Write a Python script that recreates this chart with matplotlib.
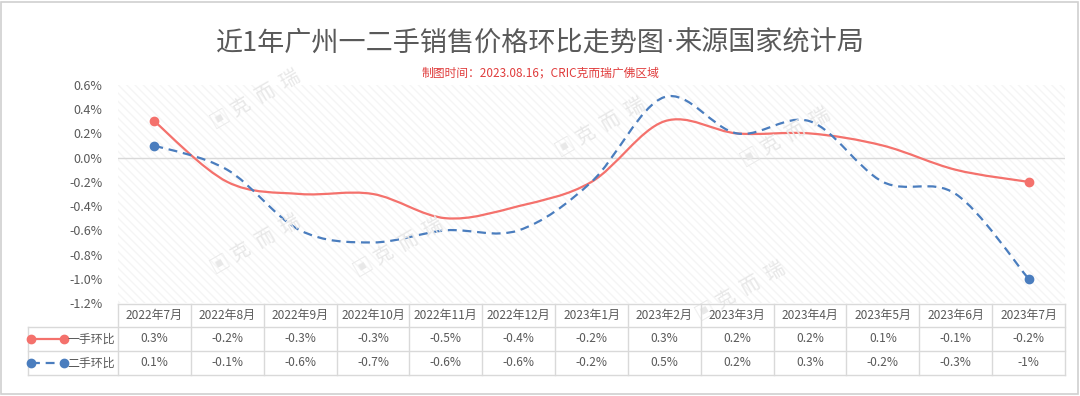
import matplotlib
matplotlib.use('Agg')
import matplotlib.pyplot as plt
from matplotlib.path import Path
from matplotlib.patches import PathPatch, Rectangle
from matplotlib.lines import Line2D
import numpy as np

plt.rcParams['font.family'] = ['Noto Sans CJK SC', 'DejaVu Sans']

title = "近1年广州一二手销售价格环比走势图·来源国家统计局"
subtitle = "制图时间：2023.08.16；CRIC克而瑞广佛区域"
months = ["2022年7月", "2022年8月", "2022年9月", "2022年10月", "2022年11月",
          "2022年12月", "2023年1月", "2023年2月", "2023年3月", "2023年4月",
          "2023年5月", "2023年6月", "2023年7月"]
first_hand = [0.3, -0.2, -0.3, -0.3, -0.5, -0.4, -0.2, 0.3, 0.2, 0.2, 0.1, -0.1, -0.2]
second_hand = [0.1, -0.1, -0.6, -0.7, -0.6, -0.6, -0.2, 0.5, 0.2, 0.3, -0.2, -0.3, -1.0]
first_labels = ["0.3%", "-0.2%", "-0.3%", "-0.3%", "-0.5%", "-0.4%", "-0.2%",
                "0.3%", "0.2%", "0.2%", "0.1%", "-0.1%", "-0.2%"]
second_labels = ["0.1%", "-0.1%", "-0.6%", "-0.7%", "-0.6%", "-0.6%", "-0.2%",
                 "0.5%", "0.2%", "0.3%", "-0.2%", "-0.3%", "-1%"]
series_names = ["一手环比", "二手环比"]
yticks = [-1.2, -1.0, -0.8, -0.6, -0.4, -0.2, 0.0, 0.2, 0.4, 0.6]

RED = '#F4716C'
BLUE = '#4A7DBE'
TXT = '#595959'
GRID = '#D9D9D9'

W, H = 1080, 396
fig = plt.figure(figsize=(W / 100, H / 100), dpi=100)
fig.patch.set_facecolor('white')


def fx(px):
    return px / W


def fy(py):
    return 1 - py / H


# outer frame
fig.add_artist(Rectangle((fx(1), fy(394)), fx(1077), 392 / H, transform=fig.transFigure,
                         fill=False, edgecolor='#D0D0D0', lw=1.2))

L, R, T, B = 118, 1065, 85, 303
ax = fig.add_axes([fx(L), fy(B), fx(R) - fx(L), fy(T) - fy(B)])
n = len(months)
ax.set_xlim(-0.5, n - 0.5)
ax.set_ylim(-1.2, 0.6)
for s in ax.spines.values():
    s.set_visible(False)
ax.set_xticks([])
ax.set_yticks(yticks)
ax.set_yticklabels([f"{v:.1f}%" for v in yticks])
ax.tick_params(axis='y', length=0, pad=11, labelsize=9, labelcolor=TXT)
ax.set_facecolor('white')
ax.add_patch(Rectangle((0, 0), 1, 1, transform=ax.transAxes, facecolor='white',
                       edgecolor='#F5F5F5', hatch='\\\\\\\\', lw=0, zorder=0))
ax.axhline(0, color=GRID, lw=1, zorder=1)


def smooth_path(xs, ys):
    pts = np.column_stack([xs, ys]).astype(float)
    m = len(pts)
    verts = [pts[0]]
    codes = [Path.MOVETO]
    for i in range(m - 1):
        p0 = pts[i - 1] if i > 0 else pts[i]
        p1 = pts[i]
        p2 = pts[i + 1]
        p3 = pts[i + 2] if i + 2 < m else pts[i + 1]
        c1 = p1 + (p2 - p0) / 6
        c2 = p2 - (p3 - p1) / 6
        verts += [c1, c2, p2]
        codes += [Path.CURVE4] * 3
    return Path(verts, codes)


xs = np.arange(n)
ax.add_patch(PathPatch(smooth_path(xs, first_hand), fill=False, edgecolor=RED, lw=1.6, zorder=3))
ax.add_patch(PathPatch(smooth_path(xs, second_hand), fill=False, edgecolor=BLUE, lw=1.6,
                       linestyle=(0, (4, 2.6)), zorder=3))
ax.plot([xs[0], xs[-1]], [first_hand[0], first_hand[-1]], 'o', color=RED, ms=6, zorder=4)
ax.plot([xs[0], xs[-1]], [second_hand[0], second_hand[-1]], 'o', color=BLUE, ms=6, zorder=4)

# watermarks
for (px, py) in [(255, 245), (398, 248), (600, 128), (785, 138), (740, 292), (255, 100)]:
    fig.text(fx(px), fy(py), "▣ 克  而  瑞", rotation=30, color='#E8E8E8', fontsize=14,
             ha='center', va='center', zorder=0.5)

# title (narrow middle dot like the original)
left_part, right_part = title.split("·")
renderer = fig.canvas.get_renderer()
tkw = dict(fontsize=19.5, color=TXT, va='center')
t1 = fig.text(0, fy(43), left_part, ha='left', **tkw)
t2 = fig.text(0, fy(43), "·", ha='left', family=['DejaVu Sans'], **tkw)
t3 = fig.text(0, fy(43), right_part, ha='left', **tkw)
w1 = t1.get_window_extent(renderer).width
w2 = t2.get_window_extent(renderer).width
w3 = t3.get_window_extent(renderer).width
x0 = (W - (w1 + w2 + w3)) / 2
t1.set_x(fx(x0))
t2.set_x(fx(x0 + w1))
t3.set_x(fx(x0 + w1 + w2))

fig.text(0.5, fy(73), subtitle, ha='center', va='center', fontsize=8.5, color='#E03C3C')

# table
colw = (R - L) / n
rows_y = [304, 327, 351, 375]


def hline(x0, x1, y):
    fig.add_artist(Line2D([fx(x0), fx(x1)], [fy(y), fy(y)], color=GRID, lw=1,
                          transform=fig.transFigure))


def vline(x, y0, y1):
    fig.add_artist(Line2D([fx(x), fx(x)], [fy(y0), fy(y1)], color=GRID, lw=1,
                          transform=fig.transFigure))


hline(L, R, rows_y[0])
for y in rows_y[1:]:
    hline(28, R, y)
vline(28, rows_y[1], rows_y[3])
for i in range(n + 1):
    vline(L + i * colw, rows_y[0], rows_y[3])

FS = 8.6
for i in range(n):
    cx = fx(L + (i + 0.5) * colw)
    fig.text(cx, fy(315.5), months[i], ha='center', va='center', fontsize=FS, color=TXT)
    fig.text(cx, fy(339), first_labels[i], ha='center', va='center', fontsize=FS, color=TXT)
    fig.text(cx, fy(363), second_labels[i], ha='center', va='center', fontsize=FS, color=TXT)

# legend keys in table
fig.add_artist(Line2D([fx(31), fx(64)], [fy(339), fy(339)], color=RED, lw=1.6, marker='o', ms=6,
                      transform=fig.transFigure))
fig.add_artist(Line2D([fx(31), fx(64)], [fy(363), fy(363)], color=BLUE, lw=1.6, marker='o', ms=6,
                      linestyle=(0, (4, 2.6)), transform=fig.transFigure))
fig.text(fx(115), fy(339), series_names[0], ha='right', va='center', fontsize=FS, color=TXT)
fig.text(fx(115), fy(363), series_names[1], ha='right', va='center', fontsize=FS, color=TXT)

fig.savefig('out.png', dpi=100, facecolor='white')
